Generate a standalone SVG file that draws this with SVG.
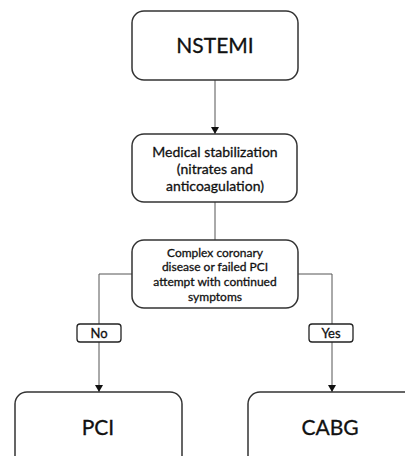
<svg xmlns="http://www.w3.org/2000/svg" width="405" height="456" viewBox="0 0 405 456">
<defs>
<marker id="ah" markerWidth="8" markerHeight="8" refX="7" refY="4" orient="auto" markerUnits="userSpaceOnUse">
<path d="M0,0 L7,4 L0,8 Z" fill="#111"/>
</marker>
<style>
.box{fill:#fff;stroke:#333;stroke-width:1.5}
.lbl{fill:#fff;stroke:#222;stroke-width:1.3}
.con{fill:none;stroke:#555;stroke-width:1}
text{font-family:Lato,"Open Sans","Liberation Sans",sans-serif;fill:#111;stroke:#111;stroke-width:0.3;text-anchor:middle}
.big{font-size:21px}
.mid{font-size:14px}
.sm{font-size:12px}
.lb{font-size:13px}
</style>
</defs>
<rect width="405" height="456" fill="#fff"/>
<g id="connectors">
<line class="con" x1="215" y1="80" x2="215" y2="134" marker-end="url(#ah)"/>
<line class="con" x1="215" y1="202" x2="215" y2="240"/>
<polyline class="con" points="132,274 99,274 99,392" marker-end="url(#ah)"/>
<polyline class="con" points="298,274 332,274 332,392" marker-end="url(#ah)"/>
</g>
<g id="nstemi">
<rect class="box" x="132" y="11" width="166" height="69" rx="12"/>
<text class="big" x="215" y="53">NSTEMI</text>
</g>
<g id="medical">
<rect class="box" x="132" y="134" width="165" height="68" rx="12"/>
<text class="mid" x="215" y="157">Medical stabilization</text>
<text class="mid" x="215" y="174">(nitrates and</text>
<text class="mid" x="215" y="191">anticoagulation)</text>
</g>
<g id="decision">
<rect class="box" x="132" y="240" width="166" height="68" rx="12"/>
<text class="sm" x="215" y="257">Complex coronary</text>
<text class="sm" x="215" y="271">disease or failed PCI</text>
<text class="sm" x="215" y="286">attempt with continued</text>
<text class="sm" x="215" y="301">symptoms</text>
</g>
<g id="no">
<rect class="lbl" x="77" y="324" width="44" height="18" rx="3"/>
<text class="lb" x="99" y="338">No</text>
</g>
<g id="yes">
<rect class="lbl" x="309" y="324" width="44" height="18" rx="3"/>
<text class="lb" x="331" y="338">Yes</text>
</g>
<g id="pci">
<rect class="box" x="15" y="392" width="167" height="80" rx="12"/>
<text class="big" x="98" y="435">PCI</text>
</g>
<g id="cabg">
<rect class="box" x="248" y="392" width="180" height="80" rx="12"/>
<text class="big" x="330" y="435">CABG</text>
</g>
</svg>
